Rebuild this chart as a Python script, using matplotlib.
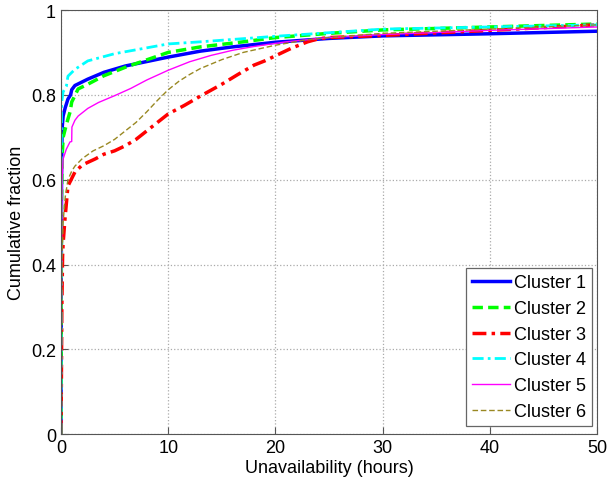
import matplotlib
matplotlib.use('Agg')
import matplotlib.pyplot as plt

plt.rcParams['font.family'] = ['Liberation Sans', 'DejaVu Sans']

# Данные кривых
c1_x = [0, 0.02, 0.05, 0.1, 0.2, 0.4, 0.65, 0.9, 1.0, 1.3, 2.5, 4, 6, 10, 13, 16, 20, 25, 30, 40, 50]
c1_y = [0, 0.3, 0.6, 0.72, 0.75, 0.77, 0.79, 0.80, 0.812, 0.822, 0.837, 0.853, 0.868, 0.889, 0.903,
        0.913, 0.924, 0.933, 0.939, 0.944, 0.95]

c2_x = [0, 0.02, 0.05, 0.1, 0.2, 0.4, 0.65, 0.85, 1.0, 1.6, 2.5, 4, 6, 10, 13, 17, 20, 25, 30, 40, 50]
c2_y = [0, 0.3, 0.55, 0.65, 0.70, 0.72, 0.743, 0.76, 0.783, 0.814, 0.825, 0.845, 0.865, 0.90, 0.913,
        0.925, 0.935, 0.945, 0.953, 0.96, 0.967]

c3_x = [0, 0.03, 0.08, 0.15, 0.2, 0.37, 0.65, 1.3, 2, 3.2, 4, 5, 6, 7, 8, 9, 10, 11.5, 13, 15, 16.5,
        18, 19, 20, 21.5, 23, 24, 25, 30, 40, 50]
c3_y = [0, 0.1, 0.3, 0.42, 0.45, 0.507, 0.585, 0.618, 0.635, 0.649, 0.66, 0.668, 0.68, 0.695, 0.715,
        0.735, 0.755, 0.775, 0.797, 0.825, 0.848, 0.87, 0.88, 0.892, 0.91, 0.925, 0.932, 0.935, 0.94,
        0.952, 0.965]

c4_x = [0, 0.02, 0.05, 0.2, 0.5, 0.65, 1.3, 2.5, 5, 10, 13, 20, 30, 40, 50]
c4_y = [0, 0.5, 0.78, 0.807, 0.82, 0.844, 0.86, 0.88, 0.897, 0.92, 0.925, 0.938, 0.955, 0.96, 0.965]

c5_x = [0, 0.03, 0.1, 0.2, 0.5, 0.84, 1.0, 1.02, 1.3, 1.6, 2.5, 3.5, 5, 6.5, 8, 10, 12, 14, 16, 18,
        21, 25, 30, 40, 50]
c5_y = [0, 0.3, 0.6, 0.649, 0.672, 0.689, 0.69, 0.724, 0.74, 0.75, 0.768, 0.782, 0.798, 0.815, 0.835,
        0.858, 0.878, 0.893, 0.905, 0.914, 0.925, 0.935, 0.942, 0.952, 0.96]

c6_x = [0, 0.03, 0.1, 0.2, 0.4, 0.65, 1.0, 1.3, 2, 3, 4, 5, 6, 7, 8, 9, 10, 11, 12, 13, 15, 17, 20,
        23, 25, 30, 40, 50]
c6_y = [0, 0.2, 0.42, 0.50, 0.56, 0.60, 0.62, 0.632, 0.65, 0.668, 0.68, 0.695, 0.715, 0.735, 0.76,
        0.787, 0.812, 0.832, 0.848, 0.862, 0.883, 0.90, 0.917, 0.93, 0.935, 0.945, 0.955, 0.965]

labels = ['Cluster 1', 'Cluster 2', 'Cluster 3', 'Cluster 4', 'Cluster 5', 'Cluster 6']

fig = plt.figure(figsize=(6.08, 4.89), dpi=100)
ax = fig.add_axes([0.1003, 0.110, 0.8817, 0.8675])

ax.plot(c1_x, c1_y, color='#0000ff', linestyle='-', lw=2.5, label=labels[0])
ax.plot(c2_x, c2_y, color='#00ff00', linestyle=(0, (3, 1.5)), lw=2.5, label=labels[1])
ax.plot(c3_x, c3_y, color='#ff0000', linestyle=(0, (4, 1.5, 1, 1.5)), lw=2.5, label=labels[2])
ax.plot(c4_x, c4_y, color='#00ffff', linestyle=(0, (4, 1.5, 1, 1.5)), lw=2.0, label=labels[3])
ax.plot(c5_x, c5_y, color='#ff00ff', linestyle='-', lw=1.0, label=labels[4])
ax.plot(c6_x, c6_y, color='#998822', linestyle=(0, (4, 2)), lw=1.0, label=labels[5])

ax.set_xlim(0, 50)
ax.set_ylim(0, 1)
ax.set_xticks([0, 10, 20, 30, 40, 50])
ax.set_yticks([0, 0.2, 0.4, 0.6, 0.8, 1])
ax.set_yticklabels(['0', '0.2', '0.4', '0.6', '0.8', '1'])
ax.tick_params(direction='in', labelsize=13, color='#555555', length=5)
for s in ax.spines.values():
    s.set_color('#555555')

ax.grid(True, linestyle=':', color='#aaaaaa', lw=0.9)
ax.set_xlabel('Unavailability (hours)', fontsize=13, labelpad=2)
ax.set_ylabel('Cumulative fraction', fontsize=13, labelpad=4)

leg = ax.legend(loc='lower right', bbox_to_anchor=(0.9907, 0.019), borderaxespad=0,
                fontsize=13, handlelength=2.1, fancybox=False, framealpha=1,
                edgecolor='#666666', labelspacing=0.48, handletextpad=0.2, borderpad=0.35)
leg.get_frame().set_linewidth(0.9)

fig.savefig('out.png', dpi=100)
